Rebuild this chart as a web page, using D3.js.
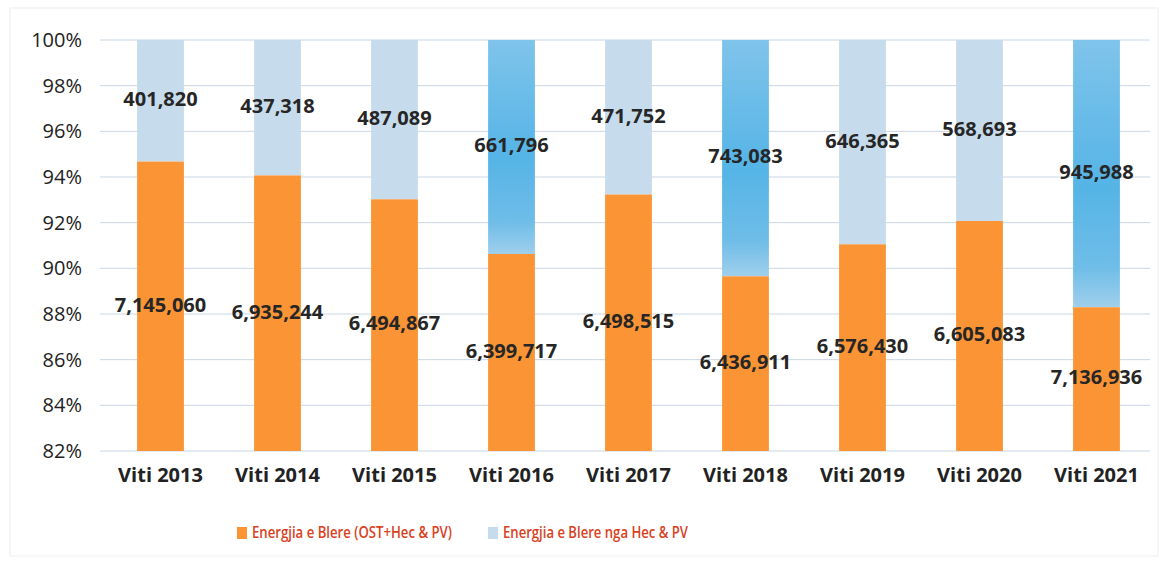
<!DOCTYPE html>
<html>
<head>
<meta charset="utf-8">
<script src="https://cdn.jsdelivr.net/npm/d3@7"></script>
<style>
  body { margin: 0; background: #fff; }
  svg text { font-family: "Open Sans", "Noto Sans", sans-serif; }
</style>
</head>
<body>
<svg class="chart"></svg>
<script>
var years = ['Viti 2013', 'Viti 2014', 'Viti 2015', 'Viti 2016', 'Viti 2017',
             'Viti 2018', 'Viti 2019', 'Viti 2020', 'Viti 2021'];
var blere = [7145060, 6935244, 6494867, 6399717, 6498515, 6436911, 6576430, 6605083, 7136936];
var hecPv = [401820, 437318, 487089, 661796, 471752, 743083, 646365, 568693, 945988];
var seriesNames = ['Energjia e Blere (OST+Hec & PV)', 'Energjia e Blere nga Hec & PV'];
var yTicks = [0.82, 0.84, 0.86, 0.88, 0.90, 0.92, 0.94, 0.96, 0.98, 1.0];

var chartWidth = 1168;
var chartHeight = 564;

// these scanned bars came out in a deeper blue
var deepBlue = ['Viti 2016', 'Viti 2018', 'Viti 2021'];

var chart = d3.select('.chart').attr('width', chartWidth).attr('height', chartHeight);

chart.append('rect')
    .attr('x', 10).attr('y', 8)
    .attr('width', chartWidth - 20).attr('height', chartHeight - 16)
    .style('fill', 'none').style('stroke', '#eeeeee');

var defs = chart.append('defs');
var grad = defs.append('linearGradient')
    .attr('id', 'deep').attr('x1', 0).attr('y1', 0).attr('x2', 0).attr('y2', 1);
grad.append('stop').attr('offset', '0%').attr('stop-color', '#7fc4eb');
grad.append('stop').attr('offset', '55%').attr('stop-color', '#55b4e6');
grad.append('stop').attr('offset', '85%').attr('stop-color', '#6fbde8');
grad.append('stop').attr('offset', '100%').attr('stop-color', '#9fcfec');

var x = d3.scaleBand().domain(years).range([102, 1155])
    .paddingInner(0.6).paddingOuter(0.3);
var y = d3.scaleLinear().domain([0.82, 1.0]).range([451, 40]);

var rows = years.map((yr, i) => {
  var total = blere[i] + hecPv[i];
  return {year: yr, a: blere[i], b: hecPv[i], p: blere[i] / total};
});

// grid
chart.append('g').selectAll('line')
    .data(yTicks)
    .join('line')
    .attr('x1', 100).attr('x2', 1150)
    .attr('y1', d => y(d)).attr('y2', d => y(d))
    .style('stroke', '#c9d6e3').style('stroke-width', 1);

// y axis
var yAxis = d3.axisLeft(y).tickValues(yTicks).tickSize(0).tickPadding(0)
    .tickFormat(d => Math.round(d * 100) + '%');
var ya = chart.append('g').attr('transform', 'translate(82,0)').call(yAxis);
ya.select('.domain').remove();
ya.selectAll('text').style('font-size', '20px').style('fill', '#222')
    .style('font-family', '"Open Sans", sans-serif');

// x axis
var xAxis = d3.axisBottom(x).tickSize(0).tickPadding(0);
var xa = chart.append('g').attr('transform', 'translate(0,468)').call(xAxis);
xa.select('.domain').remove();
xa.selectAll('text').style('font-size', '20px').style('font-weight', 'bold')
    .style('fill', '#222').style('font-family', '"Open Sans", sans-serif');

var bars = chart.append('g').selectAll('g.bar')
    .data(rows)
    .join('g')
    .attr('class', 'bar')
    .attr('transform', d => 'translate(' + x(d.year) + ',0)');

bars.append('rect')
    .attr('x', 0).attr('width', x.bandwidth())
    .attr('y', y(1.0))
    .attr('height', d => y(d.p) - y(1.0))
    .style('fill', d => deepBlue.includes(d.year) ? 'url(#deep)' : '#c6dcec');

bars.append('rect')
    .attr('x', 0).attr('width', x.bandwidth())
    .attr('y', d => y(d.p))
    .attr('height', d => y(0.82) - y(d.p))
    .style('fill', '#fb9435');

var fmt = d3.format(',');

bars.append('text')
    .attr('x', x.bandwidth() / 2)
    .attr('y', d => (y(1.0) + y(d.p)) / 2)
    .attr('text-anchor', 'middle').attr('dominant-baseline', 'middle')
    .style('font-size', '20px').style('font-weight', 'bold').style('fill', '#262626')
    .text(d => fmt(d.b));

bars.append('text')
    .attr('x', x.bandwidth() / 2)
    .attr('y', d => (y(0.82) + y(d.p)) / 2)
    .attr('text-anchor', 'middle').attr('dominant-baseline', 'middle')
    .style('font-size', '20px').style('font-weight', 'bold').style('fill', '#262626')
    .text(d => fmt(d.a));

// legend
var legendColors = ['#fb9435', '#c6dcec'];
var legendX = [237, 488];
var legendW = [200, 185];
var legend = chart.append('g').selectAll('g.legend')
    .data(seriesNames)
    .join('g')
    .attr('class', 'legend')
    .attr('transform', (d, i) => 'translate(' + legendX[i] + ',533)');
legend.append('rect')
    .attr('x', 0).attr('y', -6).attr('width', 10).attr('height', 12)
    .style('fill', (d, i) => legendColors[i]);
legend.append('text')
    .attr('x', 15).attr('y', 0).attr('dominant-baseline', 'middle')
    .attr('textLength', (d, i) => legendW[i])
    .attr('lengthAdjust', 'spacingAndGlyphs')
    .style('font-size', '17px').style('font-weight', '600').style('fill', '#d9411e')
    .text(d => d);
</script>
</body>
</html>
